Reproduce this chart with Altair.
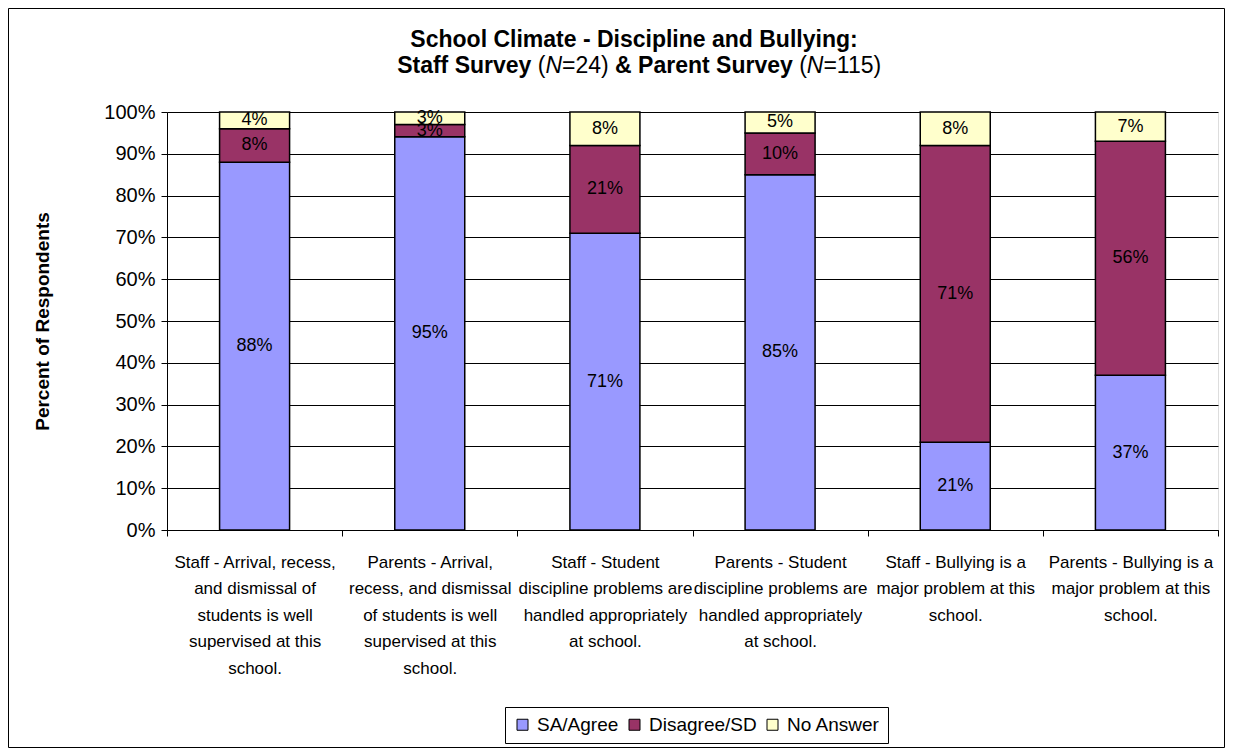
import altair as alt
import pandas as pd

categories = [
    "Staff - Arrival, recess,|and dismissal of|students is well|supervised at this|school.",
    "Parents -  Arrival,|recess, and dismissal|of students is well|supervised at this|school.",
    "Staff - Student|discipline problems are|handled appropriately|at school.",
    "Parents -  Student|discipline problems are|handled appropriately|at school.",
    "Staff - Bullying is a|major problem at this|school.",
    "Parents -  Bullying is a|major problem at this|school.",
]
series = ["SA/Agree", "Disagree/SD", "No Answer"]
sa_agree = [88, 95, 71, 85, 21, 37]
disagree = [8, 3, 21, 10, 71, 56]
no_answer = [4, 3, 8, 5, 8, 7]
colors = ["#9999FF", "#993366", "#FFFFCC"]
y_ticks = [0, 0.1, 0.2, 0.3, 0.4, 0.5, 0.6, 0.7, 0.8, 0.9, 1.0]

title_line1 = "School Climate - Discipline and Bullying:"
# (text, weight, style)
title_line2 = [
    ("Staff Survey", "bold", "normal"),
    (" (", "normal", "normal"),
    ("N", "normal", "italic"),
    ("=24) ", "normal", "normal"),
    ("& Parent Survey", "bold", "normal"),
    (" (", "normal", "normal"),
    ("N", "normal", "italic"),
    ("=115)", "normal", "normal"),
]

rows = []
for i, c in enumerate(categories):
    for j, (s, vals) in enumerate(zip(series, [sa_agree, disagree, no_answer])):
        rows.append({"cat": c, "series": s, "idx": j, "value": vals[i]})
df = pd.DataFrame(rows)

W, H = 1051, 418
PAD_L, PAD_T, PAD_R, PAD_B = 159, 104, 7, 218
FONT = "Liberation Sans"

# Arial / Liberation Sans advance widths (per 1000 em)
REG = {" ": 278, "(": 333, ")": 333, "=": 584, "N": 722, "&": 667,
       "0": 556, "1": 556, "2": 556, "4": 556, "5": 556}
BOLD = {" ": 278, "&": 722, "S": 667, "t": 333, "a": 556, "f": 333, "u": 611,
        "r": 389, "v": 556, "e": 556, "y": 556, "P": 667, "n": 611}


def seg_width(text, weight, size):
    table = BOLD if weight == "bold" else REG
    return sum(table[ch] for ch in text) * size / 1000.0


TITLE_SIZE = 23
one = alt.Data(values=[{}])

layers = []
# outer chart border
layers.append(
    alt.Chart(one).mark_rect(fillOpacity=0, stroke="black", strokeWidth=1).encode(
        x=alt.value(-PAD_L + 0.5), x2=alt.value(W + PAD_R - 0.5),
        y=alt.value(-PAD_T + 0.5), y2=alt.value(H + PAD_B - 0.5),
    )
)
# title line 1
layers.append(
    alt.Chart(one).mark_text(
        text=title_line1, font=FONT, fontSize=TITLE_SIZE, fontWeight="bold",
        align="center", baseline="alphabetic", color="black",
    ).encode(x=alt.value(467), y=alt.value(-65))
)
# title line 2 (mixed styles)
total = sum(seg_width(t, w, TITLE_SIZE) for t, w, s in title_line2)
cx = 473 - total / 2.0
for t, w, s in title_line2:
    lead = len(t) - len(t.lstrip(" "))
    stripped = t.strip(" ")
    x0 = cx + seg_width(" " * lead, w, TITLE_SIZE)
    layers.append(
        alt.Chart(one).mark_text(
            text=stripped, font=FONT, fontSize=TITLE_SIZE, fontWeight=w,
            fontStyle=s, align="left", baseline="alphabetic", color="black",
        ).encode(x=alt.value(x0), y=alt.value(-39))
    )
    cx += seg_width(t, w, TITLE_SIZE)

base = alt.Chart(df).transform_stack(
    stack="value", groupby=["cat"], as_=["y0", "y1"], offset="normalize",
    sort=[alt.SortField("idx", order="ascending")],
).transform_calculate(
    ymid="(datum.y0 + datum.y1) / 2", lab="datum.value + '%'"
)

x_enc = alt.X(
    "cat:N", sort=categories, title=None,
    scale=alt.Scale(paddingInner=0, paddingOuter=0),
    axis=alt.Axis(
        labelExpr="split(datum.label, '|')", labelAngle=0, labelFont=FONT,
        labelFontSize=17, labelLineHeight=26.5, labelPadding=18, labelLimit=400,
        labelOverlap=False, labelColor="black", labelBaseline="top",
        tickBand="extent", tickSize=6, tickColor="black", domainColor="black",
        domainWidth=1, tickWidth=1,
    ),
)
y_scale = alt.Scale(domain=[0, 1], nice=False, zero=True)

bars = base.mark_bar(size=70, stroke="black", strokeWidth=1.5).encode(
    x=x_enc,
    y=alt.Y(
        "y0:Q", scale=y_scale,
        axis=alt.Axis(
            values=y_ticks, format=".0%", grid=True, gridColor="black",
            gridWidth=1, domainColor="black", tickColor="black", tickSize=6,
            labelFont=FONT, labelFontSize=20, labelPadding=6, labelColor="black",
            title="Percent of Respondents", titleFont=FONT, titleFontSize=19,
            titleFontWeight="bold", titleColor="black", titleX=-125, titleY=209,
            titleAngle=270, titleAlign="center", titleBaseline="middle",
        ),
    ),
    y2="y1:Q",
    color=alt.Color(
        "series:N", scale=alt.Scale(domain=series, range=colors),
        legend=alt.Legend(
            title=None, orient="none", legendX=338, legendY=595,
            direction="horizontal", strokeColor="black", fillColor="white",
            padding=8, symbolType="square", symbolSize=121,
            symbolStrokeColor="black", symbolStrokeWidth=1, symbolOpacity=1,
            labelFont=FONT, labelFontSize=19, labelColor="black",
            labelOffset=5, columnPadding=6,
        ),
    ),
    order=alt.Order("idx:Q", sort="ascending"),
)

labels = base.mark_text(
    font=FONT, fontSize=18, color="black", align="center", baseline="middle"
).encode(
    x=alt.X("cat:N", sort=categories),
    y=alt.Y("ymid:Q", scale=y_scale),
    text="lab:N",
)

chart = alt.layer(*layers, bars, labels).properties(
    width=W, height=H,
    autosize=alt.AutoSizeParams(type="none"),
    padding={"left": PAD_L, "top": PAD_T, "right": PAD_R, "bottom": PAD_B},
    background="white",
).configure_view(
    fill="#C0C0C0", stroke="#808080", strokeWidth=1
).configure(font=FONT)

chart.save("out.html", embed_options={"renderer": "svg", "actions": False})
